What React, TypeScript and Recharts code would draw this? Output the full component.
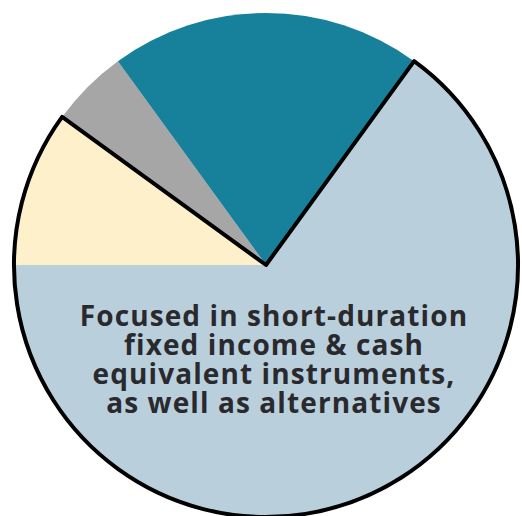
import { PieChart, Pie, Cell } from "recharts";

// slices in clockwise order, starting at the upper-right edge
const segments = ["Short-duration & alternatives", "Income", "Other", "Growth"];
const shares = [65, 10, 5, 20];
const colors = ["#b9d0dc", "#fff0cc", "#a6a6a6", "#17809b"];

// highlighted group outline (light blue + cream) vs rest
const outlineShares = [75, 25];

const labelLines = [
  "Focused in short-duration",
  "fixed income & cash",
  "equivalent instruments,",
  "as well as alternatives",
];

const data = segments.map((name, i) => ({ name, value: shares[i] }));
const outlineData = outlineShares.map((value, i) => ({ name: "g" + i, value }));

const App = () => {
  return (
    <div style={{ position: "absolute", left: 0, top: 0, width: 522, height: 516 }}>
      <PieChart width={522} height={516} margin={{ top: 0, right: 0, bottom: 0, left: 0 }}>
        <Pie
          data={data}
          dataKey="value"
          cx={266}
          cy={265}
          outerRadius={252}
          startAngle={54}
          endAngle={-306}
          stroke="none"
          isAnimationActive={false}
        >
          {data.map((d, i) => (
            <Cell key={d.name} fill={colors[i]} stroke="none" />
          ))}
        </Pie>
        <Pie
          data={outlineData}
          dataKey="value"
          cx={266}
          cy={265}
          outerRadius={252}
          startAngle={54}
          endAngle={-306}
          fill="none"
          isAnimationActive={false}
        >
          <Cell fill="none" stroke="#000" strokeWidth={4} strokeLinejoin="round" />
          <Cell fill="none" stroke="none" />
        </Pie>
      </PieChart>
      <svg
        width={522}
        height={516}
        style={{ position: "absolute", left: 0, top: 0, pointerEvents: "none" }}
      >
        {labelLines.map((line, i) => (
          <text
            key={line}
            x={274}
            y={326 + i * 29}
            textAnchor="middle"
            fill="#2a292d"
            fontFamily="'Open Sans', sans-serif"
            fontWeight={700}
            fontSize={28}
            letterSpacing={1.1}
          >
            {line}
          </text>
        ))}
      </svg>
    </div>
  );
};

export default App;
